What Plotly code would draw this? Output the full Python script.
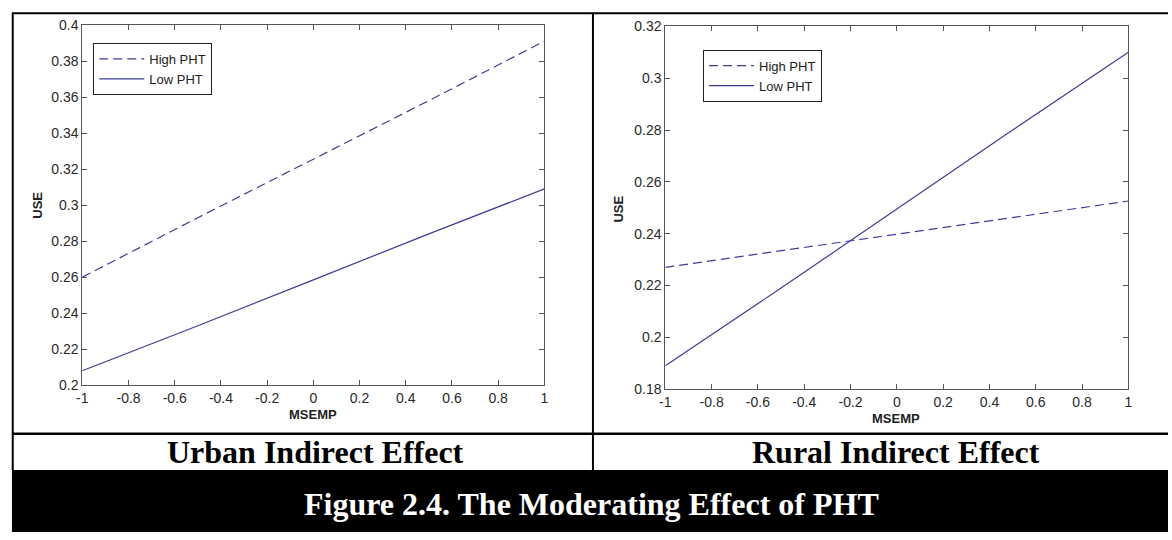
import plotly.graph_objects as go

W, H = 1172, 540

# data
msemp = [-1, -0.5, 0, 0.5, 1]
urban_high = [0.260, 0.293, 0.3255, 0.358, 0.391]
urban_low = [0.208, 0.233, 0.2585, 0.284, 0.309]
rural_high = [0.227, 0.2334, 0.2398, 0.2462, 0.2526]
rural_low = [0.189, 0.219, 0.2495, 0.280, 0.310]

x_ticks = [-1, -0.8, -0.6, -0.4, -0.2, 0, 0.2, 0.4, 0.6, 0.8, 1]
x_ticktext = ["-1", "-0.8", "-0.6", "-0.4", "-0.2", "0", "0.2", "0.4", "0.6", "0.8", "1"]
urban_yticks = [0.2, 0.22, 0.24, 0.26, 0.28, 0.3, 0.32, 0.34, 0.36, 0.38, 0.4]
urban_yticktext = ["0.2", "0.22", "0.24", "0.26", "0.28", "0.3", "0.32", "0.34", "0.36", "0.38", "0.4"]
rural_yticks = [0.18, 0.2, 0.22, 0.24, 0.26, 0.28, 0.3, 0.32]
rural_yticktext = ["0.18", "0.2", "0.22", "0.24", "0.26", "0.28", "0.3", "0.32"]

line_col = "#3d3d98"
axis_col = "#555555"
sans = "Liberation Sans, Arial, sans-serif"
serif = "Liberation Serif, Times New Roman, serif"

# page pixel -> paper coordinate
def px(x):
    return x / W

def py(y):
    return 1 - y / H

fig = go.Figure()

fig.add_trace(go.Scatter(x=msemp, y=urban_high, mode="lines", name="High PHT",
                         line=dict(color=line_col, width=1.2, dash="9px,5px"),
                         xaxis="x", yaxis="y", legend="legend"))
fig.add_trace(go.Scatter(x=msemp, y=urban_low, mode="lines", name="Low PHT",
                         line=dict(color=line_col, width=1.2),
                         xaxis="x", yaxis="y", legend="legend"))
fig.add_trace(go.Scatter(x=msemp, y=rural_high, mode="lines", name="High PHT",
                         line=dict(color=line_col, width=1.2, dash="9px,5px"),
                         xaxis="x2", yaxis="y2", legend="legend2"))
fig.add_trace(go.Scatter(x=msemp, y=rural_low, mode="lines", name="Low PHT",
                         line=dict(color=line_col, width=1.2),
                         xaxis="x2", yaxis="y2", legend="legend2"))

axis_common = dict(showline=True, mirror="ticks", linecolor=axis_col, linewidth=1,
                   ticks="inside", ticklen=5, tickcolor=axis_col, showgrid=False,
                   zeroline=False, tickfont=dict(family=sans, size=14, color="#2a2a2a"))

legend_common = dict(xanchor="left", yanchor="top", bgcolor="white",
                     bordercolor="#222", borderwidth=1, itemwidth=45,
                     font=dict(family=sans, size=13, color="#222"), tracegroupgap=0)

fig.update_layout(
    width=W, height=H,
    margin=dict(l=0, r=0, t=0, b=0),
    paper_bgcolor="white", plot_bgcolor="white",
    xaxis=dict(domain=[px(77), px(543)], range=[-1, 1], anchor="y",
               tickvals=x_ticks, ticktext=x_ticktext, **axis_common),
    yaxis=dict(domain=[py(388.7), py(17.5)], range=[0.2, 0.4], anchor="x",
               tickvals=urban_yticks, ticktext=urban_yticktext, **axis_common),
    xaxis2=dict(domain=[px(665), px(1132)], range=[-1, 1], anchor="y2",
                tickvals=x_ticks, ticktext=x_ticktext, **axis_common),
    yaxis2=dict(domain=[py(392.7), py(19)], range=[0.18, 0.32], anchor="x2",
                tickvals=rural_yticks, ticktext=rural_yticktext, **axis_common),
    legend=dict(x=px(88), y=py(36), **legend_common),
    legend2=dict(x=px(703), y=py(43), **legend_common),
)

# axis titles and captions
ann = [
    dict(text="<b>MSEMP</b>", x=px(310), y=py(419), font=dict(family=sans, size=13, color="#222")),
    dict(text="<b>MSEMP</b>", x=px(898), y=py(423), font=dict(family=sans, size=13, color="#222")),
    dict(text="<b>USE</b>", x=px(32), y=py(203), textangle=-90, font=dict(family=sans, size=13, color="#222")),
    dict(text="<b>USE</b>", x=px(618), y=py(207), textangle=-90, font=dict(family=sans, size=13, color="#222")),
    dict(text="<b>Urban Indirect Effect</b>", x=px(312), y=py(458), font=dict(family=serif, size=32, color="black")),
    dict(text="<b>Rural Indirect Effect</b>", x=px(898), y=py(458), font=dict(family=serif, size=32, color="black")),
    dict(text="<b>Figure 2.4. The Moderating Effect of PHT</b>", x=px(591), y=py(511),
         font=dict(family=serif, size=32, color="white")),
]
for a in ann:
    fig.add_annotation(xref="paper", yref="paper", showarrow=False,
                       xanchor="center", yanchor="middle", **a)

# table frame
frame = [
    dict(type="line", x0=px(6), x1=1, y0=py(5.5), y1=py(5.5), line=dict(color="black", width=2)),
    dict(type="line", x0=px(6.8), x1=px(6.8), y0=py(5), y1=py(476), line=dict(color="black", width=2)),
    dict(type="line", x0=px(592), x1=px(592), y0=py(5), y1=py(476), line=dict(color="black", width=2)),
    dict(type="line", x0=px(6), x1=1, y0=py(438.7), y1=py(438.7), line=dict(color="black", width=2.5)),
    dict(type="rect", x0=px(6), x1=1, y0=0, y1=py(476), fillcolor="black", line=dict(width=0)),
]
for s in frame:
    fig.add_shape(xref="paper", yref="paper", layer="below", **s)

# drop the default body margin so the figure sits at the page origin
fig.write_html("out.html", config={"displayModeBar": False},
               post_script="document.body.style.margin='0';document.body.style.overflow='hidden';")
